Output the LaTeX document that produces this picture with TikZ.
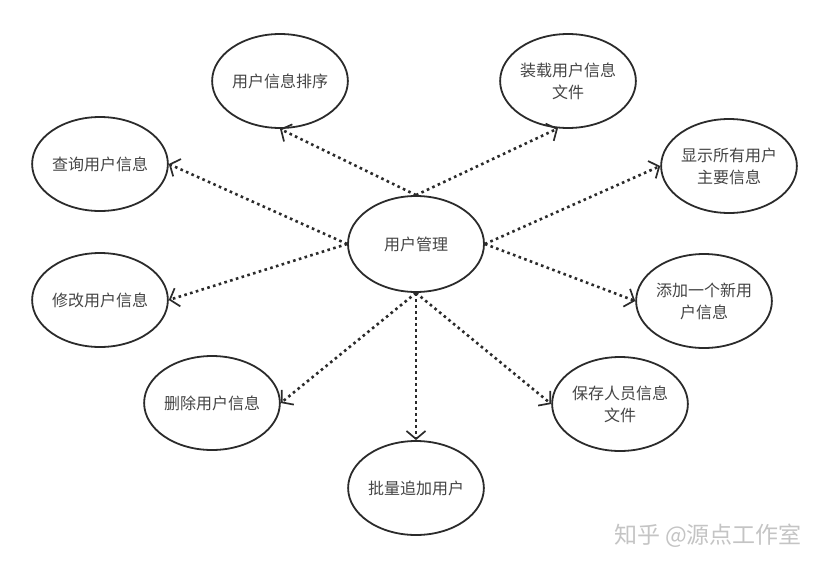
\documentclass[tikz,border=0pt]{standalone}
\usepackage{fontspec}
\newfontfamily\cjkfont{Noto Sans CJK SC}
\usetikzlibrary{arrows.meta,shapes.geometric}
\definecolor{stroke}{HTML}{2B2B2B}
\definecolor{txt}{HTML}{454545}
\definecolor{wm}{HTML}{C4C4C4}
\begin{document}
\begin{tikzpicture}[x=1pt,y=-1pt,
  usecase/.style={ellipse,draw=stroke,line width=1.8pt,fill=white,
    minimum width=134pt,minimum height=94pt,inner sep=0pt,
    align=center,text=txt,font=\cjkfont\fontsize{16}{22}\selectfont},
  link/.style={draw=stroke,line width=2.6pt,dash pattern=on 2.6pt off 3.4pt,
    -{Straight Barb[length=8pt,width=19pt,line width=1.7pt]}}]
\useasboundingbox (0,0) rectangle (830,570);
\node[usecase,minimum width=136pt,minimum height=96pt] (hub) at (416,244) {用户管理};
\node[usecase] (sort) at (280,81) {用户信息排序};
\node[usecase] (load) at (568,81) {装载用户信息\\文件};
\node[usecase] (query) at (100,164) {查询用户信息};
\node[usecase] (show) at (729,166) {显示所有用户\\主要信息};
\node[usecase] (modify) at (100,300) {修改用户信息};
\node[usecase] (add) at (704,301) {添加一个新用\\户信息};
\node[usecase] (del) at (212,403) {删除用户信息};
\node[usecase] (save) at (620,404) {保存人员信息\\文件};
\node[usecase] (batch) at (416,488) {批量追加用户};
\draw[link] (hub.north) -- (sort.south);
\draw[link] (hub.north) -- (load.258);
\draw[link] (hub.west) -- (query.east);
\draw[link] (hub.west) -- (modify.east);
\draw[link] (hub.east) -- (show.west);
\draw[link] (hub.east) -- (add.west);
\draw[link] (hub.south) -- (del.east);
\draw[link] (hub.south) -- (save.west);
\draw[link] (hub.south) -- (batch.north);
\node[text=wm,font=\cjkfont\fontsize{23}{26}\selectfont,anchor=center] (mark) at (708,536) {知乎 @源点工作室};
\end{tikzpicture}
\end{document}
